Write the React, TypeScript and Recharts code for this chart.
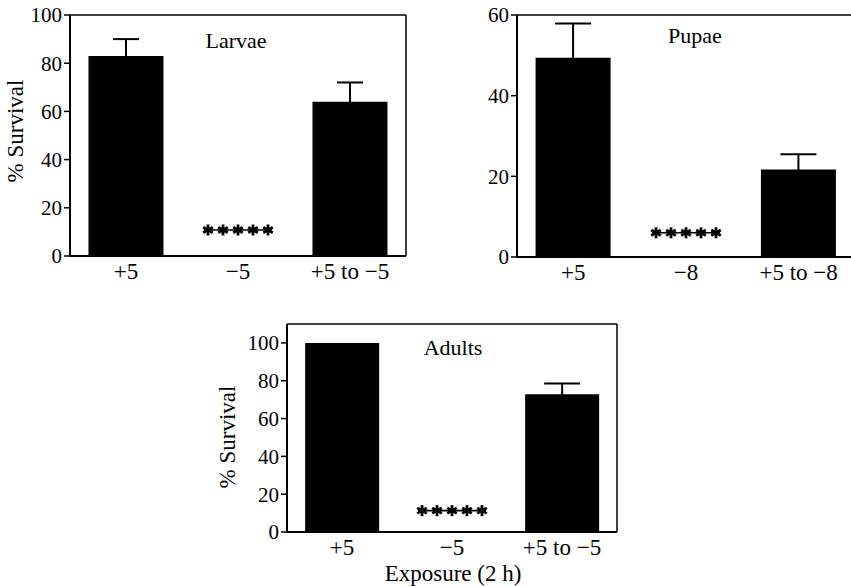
import React from 'react';
import { ComposedChart, Bar, ErrorBar, Scatter, XAxis, YAxis } from 'recharts';

// exposure temperatures (°C) per stage
const larvaeCategories = ['+5', '−5', '+5 to −5'];
const pupaeCategories = ['+5', '−8', '+5 to −8'];
const adultCategories = ['+5', '−5', '+5 to −5'];

// % survival (mean) and standard error
const larvaeSurvival = [83, null, 64];
const larvaeError = [7, null, 8];
const larvaeStars = [null, 10.8, null];

const pupaeSurvival = [49.4, null, 21.7];
const pupaeError = [8.5, null, 3.8];
const pupaeStars = [null, 6, null];

const adultSurvival = [100, null, 72.8];
const adultError = [null, null, 5.7];
const adultStars = [null, 11.3, null];

const larvaeTicks = [0, 20, 40, 60, 80, 100];
const pupaeTicks = [0, 20, 40, 60];
const adultTicks = [0, 20, 40, 60, 80, 100];

const FONT = "'Liberation Serif', 'Times New Roman', serif";
const yTickStyle = { fontFamily: FONT, fontSize: 21, fill: '#000' };
const xTickStyle = { fontFamily: FONT, fontSize: 23, fill: '#000' };

const buildRows = (cats: string[], vals: (number | null)[], errs: (number | null)[], stars: (number | null)[]) =>
  cats.map((c, i) => ({ cat: c, val: vals[i], err: errs[i], star: stars[i] }));

// row of five asterisks joined by a line ("no survivors")
const Stars = (props: any) => {
  const { cx, cy, payload } = props;
  if (payload == null || payload.star == null || cx == null || cy == null) return null;
  const xs = [-30, -15, 0, 15, 30];
  const r = 5.5;
  return (
    <g stroke="#000" strokeWidth={2.8}>
      <line x1={cx - 34} y1={cy} x2={cx + 34} y2={cy} strokeWidth={1.6} />
      {xs.map((d) => (
        <g key={d}>
          <line x1={cx + d} y1={cy - r} x2={cx + d} y2={cy + r} />
          <line x1={cx + d - r * 0.87} y1={cy - r * 0.5} x2={cx + d + r * 0.87} y2={cy + r * 0.5} />
          <line x1={cx + d - r * 0.87} y1={cy + r * 0.5} x2={cx + d + r * 0.87} y2={cy - r * 0.5} />
        </g>
      ))}
    </g>
  );
};

type PanelProps = {
  left: number; top: number; width: number; height: number;
  margin: { top: number; right: number; bottom: number; left: number };
  rows: any[]; yMax: number; ticks: number[]; capWidth: number;
  title: string; titleX: number; titleY: number;
  yLabel?: { x: number; y: number };
  xLabel?: { x: number; y: number };
};

const Panel = ({ left, top, width, height, margin, rows, yMax, ticks, capWidth, title, titleX, titleY, yLabel, xLabel }: PanelProps) => (
  <div style={{ position: 'absolute', left, top }}>
    <ComposedChart width={width} height={height} data={rows} margin={margin} barCategoryGap="16.5%">
      <XAxis dataKey="cat" height={30} tickLine={false} tickSize={5} tickMargin={2}
        axisLine={{ stroke: '#000', strokeWidth: 2 }} tick={xTickStyle} interval={0} />
      <XAxis xAxisId="top" orientation="top" dataKey="cat" height={1} tick={false} tickLine={false}
        axisLine={{ stroke: '#000', strokeWidth: 1.5 }} />
      <YAxis width={60} domain={[0, yMax]} ticks={ticks} tickSize={6} tickMargin={2} allowDataOverflow
        axisLine={{ stroke: '#000', strokeWidth: 2 }} tickLine={{ stroke: '#000', strokeWidth: 1.5 }} tick={yTickStyle} />
      <YAxis yAxisId="right" orientation="right" width={1} domain={[0, yMax]} tick={false} tickLine={false}
        axisLine={{ stroke: '#000', strokeWidth: 1.5 }} />
      <Bar dataKey="val" fill="#000" isAnimationActive={false}>
        <ErrorBar dataKey="err" width={capWidth} stroke="#000" strokeWidth={2} direction="y" />
      </Bar>
      <Scatter dataKey="star" shape={<Stars />} isAnimationActive={false} />
      <text x={titleX} y={titleY} textAnchor="middle" dominantBaseline="central"
        style={{ fontFamily: FONT, fontSize: 22, fill: '#000' }}>{title}</text>
      {yLabel && (
        <text x={yLabel.x} y={yLabel.y} textAnchor="middle" dominantBaseline="central"
          transform={`rotate(-90 ${yLabel.x} ${yLabel.y})`}
          style={{ fontFamily: FONT, fontSize: 23, fill: '#000' }}>% Survival</text>
      )}
      {xLabel && (
        <text x={xLabel.x} y={xLabel.y} textAnchor="middle" dominantBaseline="central"
          style={{ fontFamily: FONT, fontSize: 23, fill: '#000' }}>Exposure (2 h)</text>
      )}
    </ComposedChart>
  </div>
);

export default function App() {
  return (
    <div style={{ position: 'fixed', left: 0, top: 0, width: 851, height: 586, overflow: 'hidden', background: '#fff' }}>
      <Panel left={0} top={0} width={420} height={290}
        margin={{ top: 14, right: 13, bottom: 4, left: 10 }}
        rows={buildRows(larvaeCategories, larvaeSurvival, larvaeError, larvaeStars)}
        yMax={100} ticks={larvaeTicks} capWidth={13}
        title="Larvae" titleX={236} titleY={40} yLabel={{ x: 15, y: 131 }} />
      <Panel left={440} top={0} width={420} height={290}
        margin={{ top: 14, right: 4, bottom: 3, left: 17 }}
        rows={buildRows(pupaeCategories, pupaeSurvival, pupaeError, pupaeStars)}
        yMax={60} ticks={pupaeTicks} capWidth={18}
        title="Pupae" titleX={255} titleY={35} />
      <Panel left={200} top={300} width={430} height={286}
        margin={{ top: 23, right: 12, bottom: 24, left: 27 }}
        rows={buildRows(adultCategories, adultSurvival, adultError, adultStars)}
        yMax={110} ticks={adultTicks} capWidth={18}
        title="Adults" titleX={253} titleY={47} yLabel={{ x: 27, y: 437 - 300 }}
        xLabel={{ x: 253, y: 273 }} />
    </div>
  );
}
